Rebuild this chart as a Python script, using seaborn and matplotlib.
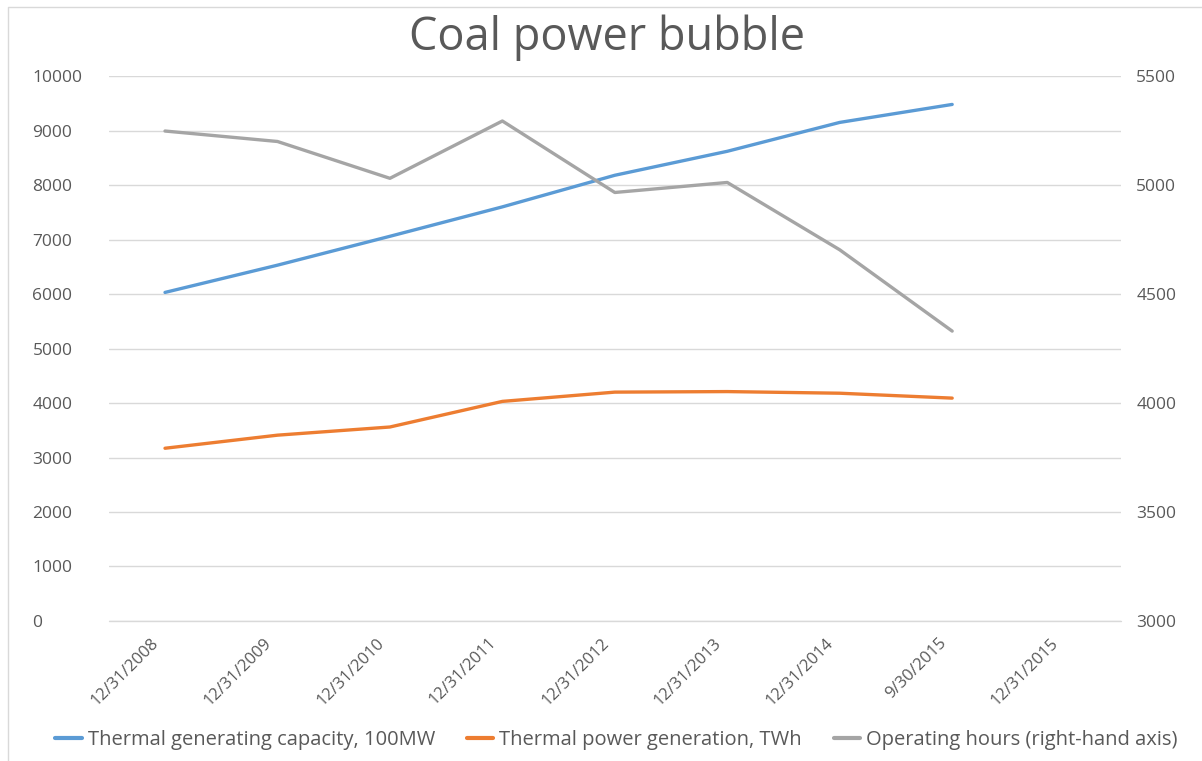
import numpy as np
import pandas as pd
import matplotlib
matplotlib.use('Agg')
import matplotlib.pyplot as plt
import matplotlib.transforms as mtransforms
import seaborn as sns
from matplotlib.lines import Line2D

# Datos
fechas = ['12/31/2008', '12/31/2009', '12/31/2010', '12/31/2011', '12/31/2012',
          '12/31/2013', '12/31/2014', '9/30/2015', '12/31/2015']
capacidad = [6030, 6530, 7060, 7600, 8180, 8620, 9150, 9480]
generacion = [3170, 3410, 3560, 4030, 4200, 4210, 4180, 4090]
horas = [5248, 5200, 5031, 5294, 4966, 5012, 4703, 4330]

lbl_cap = 'Thermal generating capacity, 100MW'
lbl_gen = 'Thermal power generation, TWh'
lbl_hor = 'Operating hours (right-hand axis)'

sns.set_theme(style='white')
plt.rcParams['font.family'] = ['Open Sans', 'DejaVu Sans']

color_texto = '#595959'
azul, naranja, gris = '#5B9BD5', '#ED7D31', '#A5A5A5'

df = pd.DataFrame({
    'pos': np.arange(len(capacidad)),
    'capacidad': capacidad,
    'generacion': generacion,
    'horas': horas,
})

fig = plt.figure(figsize=(12.02, 7.61), dpi=100)
ax = fig.add_axes([0.0905, 0.184, 0.842, 0.716])
ax2 = ax.twinx()

sns.lineplot(data=df, x='pos', y='capacidad', ax=ax, color=azul, linewidth=2.4, label=lbl_cap, legend=False)
sns.lineplot(data=df, x='pos', y='generacion', ax=ax, color=naranja, linewidth=2.4, label=lbl_gen, legend=False)
sns.lineplot(data=df, x='pos', y='horas', ax=ax2, color=gris, linewidth=2.4, label=lbl_hor, legend=False)

ax.set_xlim(-0.5, len(fechas) - 0.5)
ax.set_ylim(0, 10000)
ax2.set_ylim(3000, 5500)
ax.set_yticks(np.arange(0, 10001, 1000))
ax2.set_yticks(np.arange(3000, 5501, 500))
ax.yaxis.grid(True, color='#d9d9d9', linewidth=1)
ax.axhline(0, color='#d9d9d9', linewidth=1, clip_on=False, zorder=0)
ax.set_axisbelow(True)

ax.set_xticks(np.arange(len(fechas)))
ax.set_xticklabels(fechas, rotation=45, ha='right', rotation_mode='anchor')
ax.tick_params(axis='x', length=0, pad=10, labelsize=12, labelcolor=color_texto)
ax.tick_params(axis='y', length=0, pad=55, labelsize=12.5, labelcolor=color_texto)
ax2.tick_params(axis='y', length=0, pad=11, labelsize=12.5, labelcolor=color_texto)
for lab in ax.get_yticklabels():
    lab.set_horizontalalignment('left')
desplaza = mtransforms.ScaledTranslation(-14 / 100, 0, fig.dpi_scale_trans)
for lab in ax.get_xticklabels():
    lab.set_transform(lab.get_transform() + desplaza)

for a in (ax, ax2):
    a.set_xlabel('')
    a.set_ylabel('')
    for s in a.spines.values():
        s.set_visible(False)

fig.text(0.505, 0.951, 'Coal power bubble', ha='center', va='center',
         fontsize=32.5, color=color_texto)

handles = [Line2D([], [], color=c, linewidth=3) for c in (azul, naranja, gris)]
fig.legend(handles, [lbl_cap, lbl_gen, lbl_hor], loc='center', bbox_to_anchor=(0.513, 0.028),
           ncol=3, frameon=False, fontsize=14.5, handlelength=1.3, handletextpad=0.3,
           columnspacing=1.6, labelcolor=color_texto)

# borde del area del grafico (izquierda y arriba)
fig.add_artist(Line2D([0.007, 0.007, 1.0], [0.0, 0.991, 0.991], transform=fig.transFigure,
                      color='#d9d9d9', linewidth=1))

fig.savefig('out.png', dpi=100)
